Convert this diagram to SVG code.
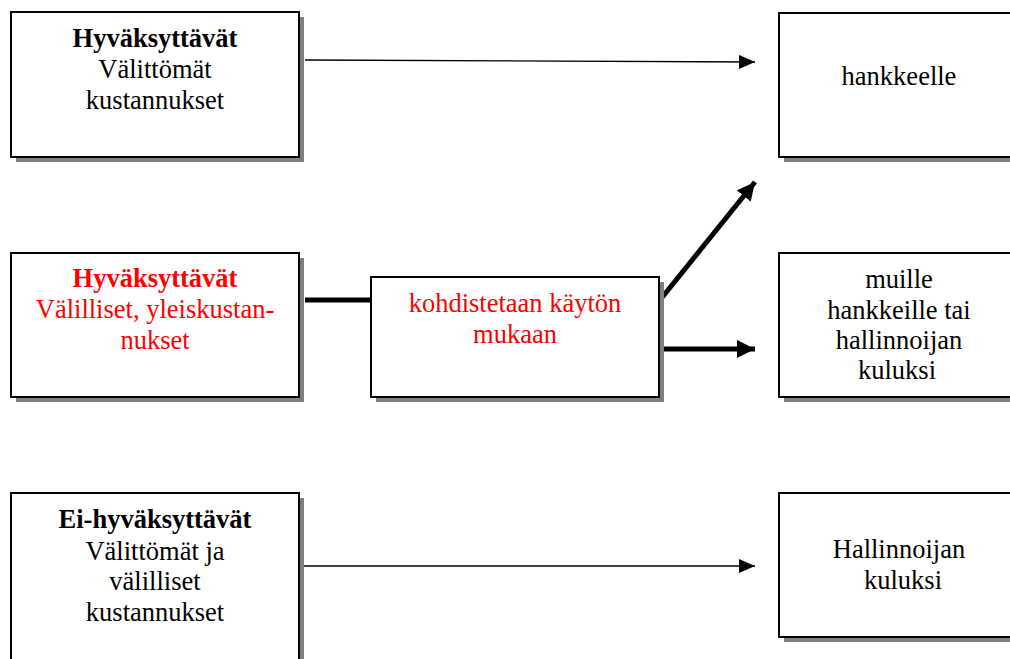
<svg xmlns="http://www.w3.org/2000/svg" width="1010" height="659" viewBox="0 0 1010 659">
<style>
  .shadow { fill: #808080; stroke: none; }
  .box { fill: #ffffff; stroke: #000000; stroke-width: 2; }
  .t { font-size: 26.5px; text-anchor: middle; fill: #000000; }
  .b { font-weight: bold; }
  .red { fill: #ff0000; }
  .thin { stroke: #000000; stroke-width: 1.3; fill: none; }
  .thick { stroke: #000000; stroke-width: 5; fill: none; }
</style>
<defs>
  <marker id="ah" markerUnits="userSpaceOnUse" markerWidth="16" markerHeight="14" refX="16" refY="7" orient="auto">
    <path d="M0,0 L16,7 L0,14 Z" fill="#000000"/>
  </marker>
  <marker id="ahb" markerUnits="userSpaceOnUse" markerWidth="18" markerHeight="18" refX="18" refY="9" orient="auto">
    <path d="M0,0 L18,9 L0,18 Z" fill="#000000"/>
  </marker>
</defs>
<rect width="1010" height="659" fill="#ffffff"/>

<g id="connectors">
  <line class="thin" x1="305" y1="60" x2="755" y2="62" marker-end="url(#ah)"/>
  <line class="thick" x1="305" y1="300" x2="371" y2="300"/>
  <line class="thick" x1="660" y1="300" x2="755" y2="182" marker-end="url(#ahb)"/>
  <line class="thick" x1="660" y1="349" x2="755" y2="349" marker-end="url(#ahb)"/>
  <line class="thin" x1="299" y1="566" x2="755" y2="566" marker-end="url(#ah)"/>
</g>

<g id="n-hyv-valittomat">
  <rect class="shadow" x="16" y="17" width="288" height="145"/>
  <rect class="box" x="11" y="12" width="288" height="145"/>
  <text x="155" y="46.5" class="t b" font-family="Liberation Serif">Hyväksyttävät</text>
  <text x="155" y="78" class="t" font-family="Liberation Serif">Välittömät</text>
  <text x="155" y="109" class="t" font-family="Liberation Serif">kustannukset</text>
</g>

<g id="n-hankkeelle">
  <rect class="shadow" x="784" y="18" width="240" height="144"/>
  <rect class="box" x="779" y="13" width="240" height="144"/>
  <text x="899" y="85" class="t" font-family="Liberation Serif">hankkeelle</text>
</g>

<g id="n-hyv-valilliset">
  <rect class="shadow" x="16" y="258" width="288" height="144"/>
  <rect class="box" x="11" y="253" width="288" height="144"/>
  <text x="155" y="287" class="t b red" font-family="Liberation Serif">Hyväksyttävät</text>
  <text x="155" y="318" class="t red" font-family="Liberation Serif">Välilliset, yleiskustan-</text>
  <text x="155" y="349" class="t red" font-family="Liberation Serif">nukset</text>
</g>

<g id="n-kohdistetaan">
  <rect class="shadow" x="376" y="282" width="288" height="120"/>
  <rect class="box" x="371" y="277" width="288" height="120"/>
  <text x="515" y="311.5" class="t red" font-family="Liberation Serif">kohdistetaan käytön</text>
  <text x="515" y="343" class="t red" font-family="Liberation Serif">mukaan</text>
</g>

<g id="n-muille">
  <rect class="shadow" x="784" y="258" width="240" height="144"/>
  <rect class="box" x="779" y="253" width="240" height="144"/>
  <text x="899" y="288" class="t" font-family="Liberation Serif">muille</text>
  <text x="899" y="318.5" class="t" font-family="Liberation Serif">hankkeille tai</text>
  <text x="899" y="348.5" class="t" font-family="Liberation Serif">hallinnoijan</text>
  <text x="897" y="379" class="t" font-family="Liberation Serif">kuluksi</text>
</g>

<g id="n-ei-hyv">
  <rect class="shadow" x="16" y="498" width="288" height="180"/>
  <rect class="box" x="11" y="493" width="288" height="180"/>
  <text x="155" y="528" class="t b" font-family="Liberation Serif">Ei-hyväksyttävät</text>
  <text x="155" y="559.5" class="t" font-family="Liberation Serif">Välittömät ja</text>
  <text x="155" y="590" class="t" font-family="Liberation Serif">välilliset</text>
  <text x="155" y="620.5" class="t" font-family="Liberation Serif">kustannukset</text>
</g>

<g id="n-hallinnoijan">
  <rect class="shadow" x="784" y="498" width="240" height="144"/>
  <rect class="box" x="779" y="493" width="240" height="144"/>
  <text x="899" y="558" class="t" font-family="Liberation Serif">Hallinnoijan</text>
  <text x="903" y="588.5" class="t" font-family="Liberation Serif">kuluksi</text>
</g>
</svg>
